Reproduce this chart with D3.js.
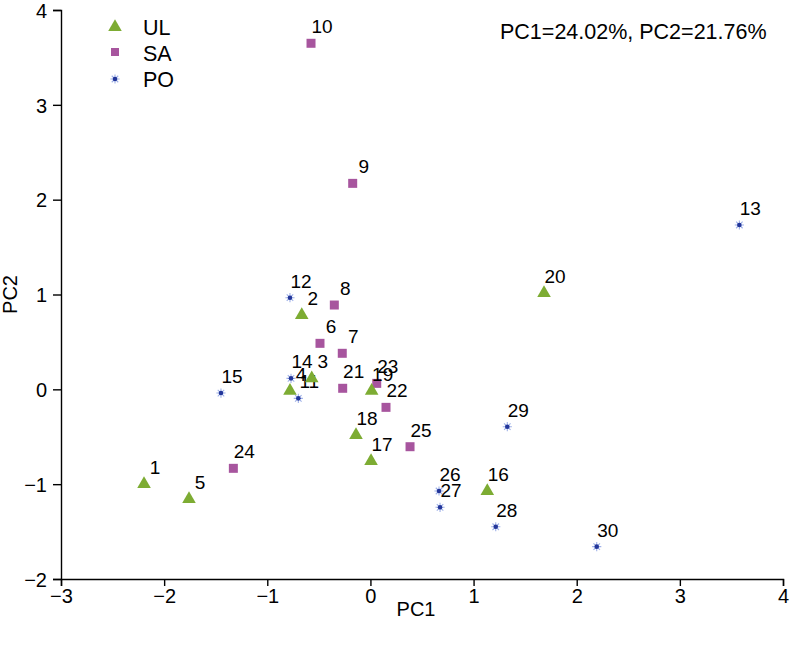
<!DOCTYPE html>
<html>
<head>
<meta charset="utf-8">
<script src="https://cdn.jsdelivr.net/npm/d3@7"></script>
<style>
  html, body { margin: 0; padding: 0; background: #fff; }
  svg { display: block; font-family: "Liberation Sans", Arial, sans-serif; }
</style>
</head>
<body>
<svg id="chart" width="791" height="645"></svg>
<script>
// ---- data ----
const ulIds = [1, 2, 3, 4, 5, 16, 17, 18, 19, 20];
const ulPC1 = [-2.195, -0.666, -0.569, -0.780, -1.759, 1.133, 0.006, -0.140, 0.012, 1.683];
const ulPC2 = [-1.000, 0.784, 0.116, -0.015, -1.157, -1.072, -0.756, -0.482, -0.015, 1.016];

const saIds = [6, 7, 8, 9, 10, 21, 22, 23, 24, 25];
const saPC1 = [-0.489, -0.273, -0.350, -0.172, -0.576, -0.269, 0.151, 0.061, -1.329, 0.384];
const saPC2 = [0.485, 0.380, 0.889, 2.172, 3.649, 0.011, -0.190, 0.063, -0.833, -0.605];

const poIds = [11, 12, 13, 14, 15, 26, 27, 28, 29, 30];
const poPC1 = [-0.699, -0.780, 3.577, -0.770, -1.449, 0.665, 0.675, 1.215, 1.327, 2.194];
const poPC2 = [-0.095, 0.966, 1.733, 0.116, -0.039, -1.072, -1.244, -1.449, -0.394, -1.659];

const xTicks = [-3, -2, -1, 0, 1, 2, 3, 4];
const yTicks = [-2, -1, 0, 1, 2, 3, 4];
const groupNames = ["UL", "SA", "PO"];
const annotation = "PC1=24.02%, PC2=21.76%";
const xTitle = "PC1";
const yTitle = "PC2";

// ---- layout ----
const svg = d3.select("#chart");
const x = d3.scaleLinear().domain([-3, 4]).range([61, 783]);
const y = d3.scaleLinear().domain([-2, 4]).range([579, 10]);

const GREEN = "#7dac33";
const MAGENTA = "#a7559e";
const BLUE_DARK = "#23369a";
const BLUE_LIGHT = "#9fb1e8";
const fmt = d => (d < 0 ? "\u2212" + Math.abs(d) : String(d));

// axes
const xAxis = d3.axisBottom(x).tickValues(xTicks).tickSize(7).tickPadding(3).tickFormat(fmt);
const yAxis = d3.axisLeft(y).tickValues(yTicks).tickSize(8).tickPadding(6).tickFormat(fmt);

const gx = svg.append("g").attr("transform", `translate(0,${y(-2)})`).call(xAxis);
const gy = svg.append("g").attr("transform", `translate(${x(-3)},0)`).call(yAxis);
[gx, gy].forEach(g => {
  g.select(".domain").attr("stroke", "#000").attr("stroke-width", 1.4);
  g.selectAll(".tick line").attr("stroke", "#000").attr("stroke-width", 1.4);
  g.selectAll(".tick text").attr("fill", "#000").style("font-size", "20px")
    .style("font-family", "'Liberation Sans', Arial, sans-serif");
});
gy.selectAll(".tick text").attr("dy", "0.36em");

// axis titles
svg.append("text").attr("x", 416).attr("y", 616)
  .attr("text-anchor", "middle").style("font-size", "20px").text(xTitle);
svg.append("text").attr("transform", `translate(17,${(y(-2) + y(4)) / 2}) rotate(-90)`)
  .attr("text-anchor", "middle").style("font-size", "20px").text(yTitle);

// annotation
svg.append("text").attr("x", 500).attr("y", 39).style("font-size", "21.5px").text(annotation);

// symbols
const tri = d3.symbol().type(d3.symbolTriangle).size(80);
const sq = d3.symbol().type(d3.symbolSquare).size(81);

function drawStar(g, cx, cy) {
  const r = 4.6, rd = r * 0.7071;
  const p = d3.path();
  p.moveTo(cx - r, cy); p.lineTo(cx + r, cy);
  p.moveTo(cx, cy - r); p.lineTo(cx, cy + r);
  p.moveTo(cx - rd, cy - rd); p.lineTo(cx + rd, cy + rd);
  p.moveTo(cx - rd, cy + rd); p.lineTo(cx + rd, cy - rd);
  g.append("path").attr("d", p.toString()).attr("stroke", BLUE_LIGHT).attr("stroke-width", 1.1).attr("fill", "none");
  g.append("circle").attr("cx", cx).attr("cy", cy).attr("r", 2.3).attr("fill", BLUE_DARK);
}

const pts = svg.append("g");
function drawGroup(ids, xs, ys, kind) {
  ids.forEach((id, i) => {
    const px = x(xs[i]), py = y(ys[i]);
    if (kind === "tri") {
      pts.append("path").attr("d", tri()).attr("transform", `translate(${px},${py})`).attr("fill", GREEN);
    } else if (kind === "sq") {
      pts.append("path").attr("d", sq()).attr("transform", `translate(${px},${py})`).attr("fill", MAGENTA);
    } else {
      drawStar(pts, px, py);
    }
    pts.append("text").attr("x", px + 11).attr("y", py - 10)
      .attr("text-anchor", "middle").style("font-size", "19px").attr("fill", "#000").text(id);
  });
}
drawGroup(saIds, saPC1, saPC2, "sq");
drawGroup(poIds, poPC1, poPC2, "star");
drawGroup(ulIds, ulPC1, ulPC2, "tri");

// legend
const lg = svg.append("g");
const legendY = [27, 52, 79];
lg.append("path").attr("d", tri()).attr("transform", `translate(115,${legendY[0]})`).attr("fill", GREEN);
lg.append("path").attr("d", d3.symbol().type(d3.symbolSquare).size(64)())
  .attr("transform", `translate(115,${legendY[1]})`).attr("fill", MAGENTA);
drawStar(lg, 115, legendY[2]);
groupNames.forEach((n, i) => {
  lg.append("text").attr("x", 143).attr("y", [35, 61, 87][i]).style("font-size", "21.5px").text(n);
});
</script>
</body>
</html>
